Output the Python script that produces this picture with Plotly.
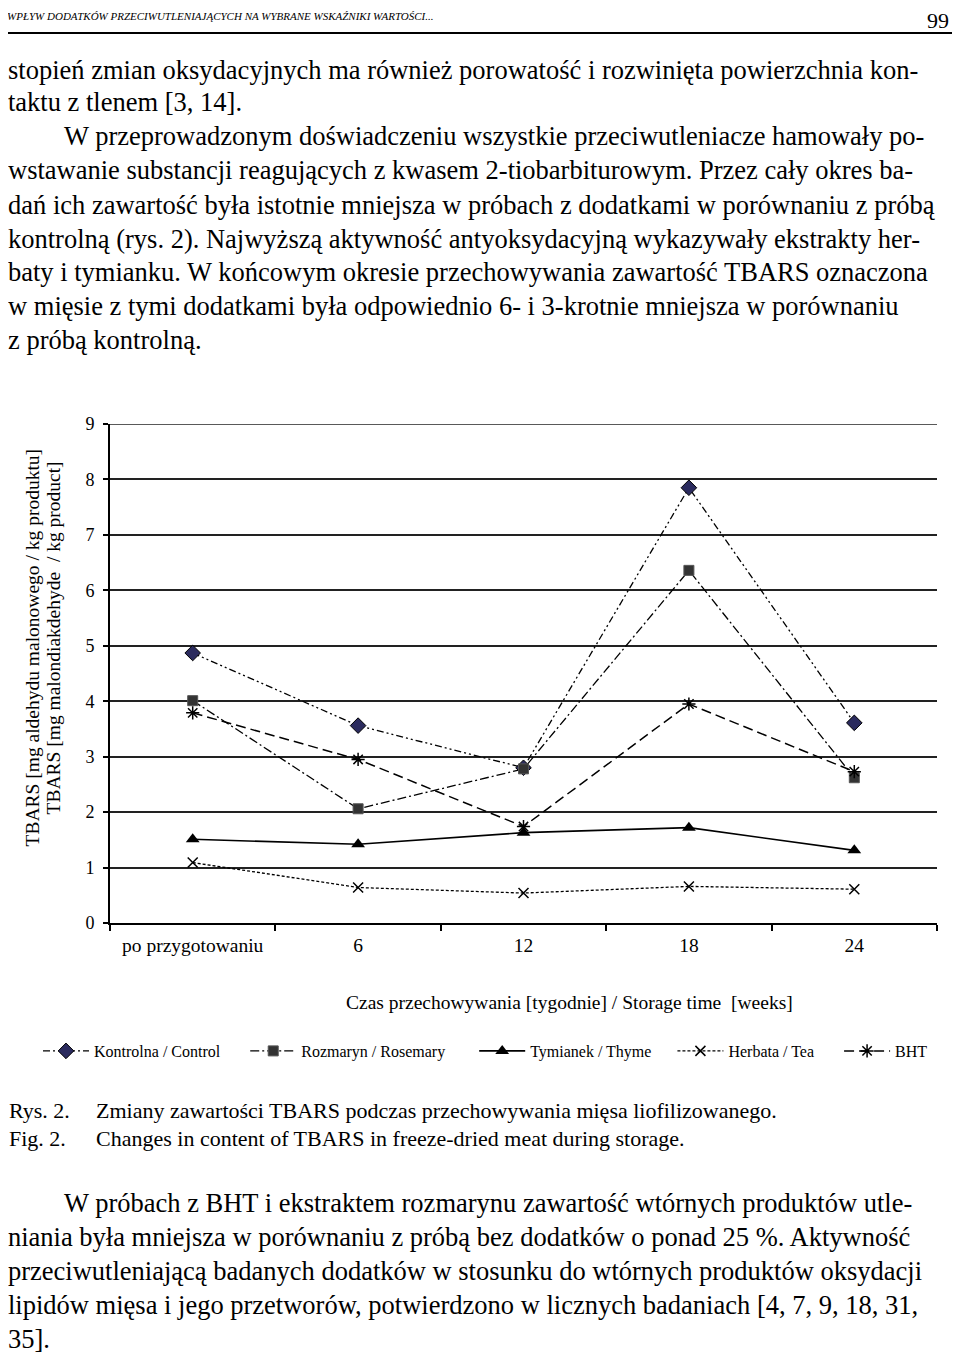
import plotly.graph_objects as go

# Dane (TBARS, mg/kg)
okresy = ["po przygotowaniu", "6", "12", "18", "24"]
kontrolna = [4.87, 3.56, 2.80, 7.85, 3.61]
rozmaryn = [4.01, 2.06, 2.78, 6.36, 2.62]
tymianek = [1.51, 1.42, 1.63, 1.72, 1.31]
herbata = [1.09, 0.64, 0.54, 0.66, 0.61]
bht = [3.79, 2.95, 1.74, 3.95, 2.73]

nazwy = ["Kontrolna / Control", "Rozmaryn / Rosemary", "Tymianek / Thyme", "Herbata / Tea", "BHT"]

tekst_gora = [
    "stopień zmian oksydacyjnych ma również porowatość i rozwinięta powierzchnia kon-",
    "taktu z tlenem [3, 14].",
    "W przeprowadzonym doświadczeniu wszystkie przeciwutleniacze hamowały po-",
    "wstawanie substancji reagujących z kwasem 2-tiobarbiturowym. Przez cały okres ba-",
    "dań ich zawartość była istotnie mniejsza w próbach z dodatkami w porównaniu z próbą",
    "kontrolną (rys. 2). Najwyższą aktywność antyoksydacyjną wykazywały ekstrakty her-",
    "baty i tymianku. W końcowym okresie przechowywania zawartość TBARS oznaczona",
    "w mięsie z tymi dodatkami była odpowiednio 6- i 3-krotnie mniejsza w porównaniu",
    "z próbą kontrolną.",
]
tekst_dol = [
    "W próbach z BHT i ekstraktem rozmarynu zawartość wtórnych produktów utle-",
    "niania była mniejsza w porównaniu z próbą bez dodatków o ponad 25 %. Aktywność",
    "przeciwutleniającą badanych dodatków w stosunku do wtórnych produktów oksydacji",
    "lipidów mięsa i jego przetworów, potwierdzono w licznych badaniach [4, 7, 9, 18, 31,",
    "35].",
]

SERIF = "Liberation Serif"

# strona ma margines 8 px, wiec figura jest mniejsza o tyle
OFF = 8
# obszar wykresu w pikselach strony
L, R, T, B = 110, 937, 424, 923


def px_x(px):
    return (px - L) / (R - L)


def px_y(py):
    return (B - py) / (B - T)


fig = go.Figure()

style = [
    (kontrolna, dict(color="black", width=1.3, dash="7px,3px,2px,3px,2px,3px"),
     dict(symbol="diamond", size=12, color="#2b2b5e", line=dict(color="black", width=1))),
    (rozmaryn, dict(color="black", width=1.3, dash="9px,3px,2px,3px"),
     dict(symbol="square", size=10, color="#333333", line=dict(color="#555", width=1))),
    (tymianek, dict(color="black", width=1.6),
     dict(symbol="triangle-up", size=12, color="black")),
    (herbata, dict(color="black", width=1.3, dash="3px,2px"),
     dict(symbol="x-thin-open", size=10, color="black", line=dict(color="black", width=1.5))),
    (bht, dict(color="black", width=1.5, dash="10px,5px"),
     dict(symbol="asterisk-open", size=11, color="black", line=dict(color="black", width=1.5))),
]

# odstepy miedzy pozycjami legendy
pad = ["\u00a0" * 5, "\u00a0" * 6, "\u00a0" * 4, "\u00a0" * 5, ""]

for name, p, (vals, line, marker) in zip(nazwy, pad, style):
    fig.add_trace(go.Scatter(
        x=okresy, y=vals, name=name + p, mode="lines+markers",
        line=line, marker=marker,
    ))

ann = []

# naglowek strony
ann.append(dict(x=px_x(5), y=px_y(16), text="<i>WPŁYW DODATKÓW PRZECIWUTLENIAJĄCYCH NA WYBRANE WSKAŹNIKI WARTOŚCI...</i>",
                font=dict(family=SERIF, size=11, color="black"), xanchor="left"))
ann.append(dict(x=px_x(951), y=px_y(20), text="99",
                font=dict(family=SERIF, size=22, color="black"), xanchor="right"))

top_y = [70, 102, 136, 170, 205, 239, 272, 306, 340]
for i, (line, yy) in enumerate(zip(tekst_gora, top_y)):
    x0 = 62 if i == 2 else 6
    ann.append(dict(x=px_x(x0), y=px_y(yy), text=line,
                    font=dict(family=SERIF, size=26.5, color="black"), xanchor="left"))

bot_y = [1203, 1237, 1271, 1305, 1339]
for i, (line, yy) in enumerate(zip(tekst_dol, bot_y)):
    x0 = 62 if i == 0 else 6
    ann.append(dict(x=px_x(x0), y=px_y(yy), text=line,
                    font=dict(family=SERIF, size=26.5, color="black"), xanchor="left"))

# tytuly osi
ann.append(dict(x=px_x(569), y=px_y(1002), text="Czas przechowywania [tygodnie] / Storage time  [weeks]",
                font=dict(family=SERIF, size=19.5, color="black")))
ann.append(dict(x=px_x(19), y=px_y(648), text="TBARS [mg aldehydu malonowego / kg produktu]",
                textangle=-90, font=dict(family=SERIF, size=19.5, color="black")))
ann.append(dict(x=px_x(40), y=px_y(638), text="TBARS [mg malondiakdehyde  / kg product]",
                textangle=-90, font=dict(family=SERIF, size=19.5, color="black")))

# podpis
cap = [("Rys. 2.", "Zmiany zawartości TBARS podczas przechowywania mięsa liofilizowanego.", 1110),
       ("Fig. 2.", "Changes in content of TBARS in freeze-dried meat during storage.", 1138)]
for a, b, yy in cap:
    ann.append(dict(x=px_x(7), y=px_y(yy), text=a, font=dict(family=SERIF, size=22, color="black"), xanchor="left"))
    ann.append(dict(x=px_x(94), y=px_y(yy), text=b, font=dict(family=SERIF, size=22, color="black"), xanchor="left"))

for a in ann:
    a.update(xref="paper", yref="paper", showarrow=False, yanchor="middle")

fig.update_layout(
    width=960 - OFF, height=1355 - OFF,
    margin=dict(l=L - OFF, r=960 - R, t=T - OFF, b=1355 - B),
    paper_bgcolor="white", plot_bgcolor="white",
    font=dict(family=SERIF, color="black"),
    annotations=ann,
    shapes=[
        dict(type="line", xref="paper", yref="paper", x0=px_x(5), x1=px_x(955),
             y0=px_y(33), y1=px_y(33), line=dict(color="black", width=2)),
        # gorna linia siatki (9)
        dict(type="line", xref="paper", yref="y", x0=0, x1=1, y0=9, y1=9,
             line=dict(color="#222222", width=1.5)),
    ],
    legend=dict(orientation="h", x=px_x(38), y=px_y(1051), xanchor="left", yanchor="middle",
                font=dict(family=SERIF, size=16, color="black"), itemwidth=46),
    showlegend=True,
)

fig.update_xaxes(
    type="category", range=[-0.5, 4.5], showline=True, linecolor="black", linewidth=2,
    ticks="outside", tickson="boundaries", ticklen=6, tickcolor="black", tickwidth=1.5,
    showgrid=False, tickfont=dict(family=SERIF, size=19.5, color="black"),
    ticklabelstandoff=4,
)
fig.update_yaxes(
    range=[0, 9], dtick=1, showline=True, linecolor="black", linewidth=2,
    ticks="outside", ticklen=5, tickcolor="black", tickwidth=1.5,
    showgrid=True, gridcolor="#222222", gridwidth=1.5, zeroline=False,
    tickfont=dict(family=SERIF, size=18, color="black"), ticklabelstandoff=5,
)

fig.write_html("out.html")
